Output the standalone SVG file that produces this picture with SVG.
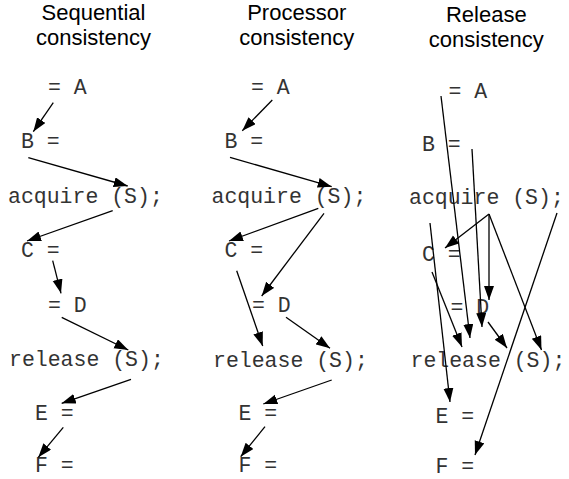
<svg xmlns="http://www.w3.org/2000/svg" width="569" height="479" viewBox="0 0 569 479">
<style>
.title{font-family:"Liberation Sans",Arial,sans-serif;font-size:22px;fill:#000;text-anchor:middle}
.code{font-family:"Liberation Mono","Courier New",monospace;font-size:21.5px;fill:#333}
.conn line{stroke:#000;stroke-width:1.3;fill:none;marker-end:url(#ah)}
</style>
<defs>
<marker id="ah" markerUnits="userSpaceOnUse" markerWidth="15" markerHeight="11" refX="14" refY="5" orient="auto">
<path d="M0,0 L14,5 L0,10 z" fill="#000"/>
</marker>
</defs>
<rect width="569" height="479" fill="#fff"/>
<g id="titles">
<text class="title" x="93.5" y="20">Sequential</text>
<text class="title" x="93.5" y="45">consistency</text>
<text class="title" x="296.7" y="20">Processor</text>
<text class="title" x="296.7" y="45">consistency</text>
<text class="title" x="486.3" y="22">Release</text>
<text class="title" x="486.3" y="47">consistency</text>
</g>
<!-- Column 1: Sequential -->
<g id="s-A"><text class="code" x="48" y="94">= A</text></g>
<g id="s-B"><text class="code" x="21" y="148">B =</text></g>
<g id="s-acq"><text class="code" x="8" y="203">acquire (S);</text></g>
<g id="s-C"><text class="code" x="21" y="257">C =</text></g>
<g id="s-D"><text class="code" x="48" y="312">= D</text></g>
<g id="s-rel"><text class="code" x="9" y="366">release (S);</text></g>
<g id="s-E"><text class="code" x="35" y="420">E =</text></g>
<g id="s-F"><text class="code" x="35" y="472">F =</text></g>
<!-- Column 2: Processor -->
<g id="p-A"><text class="code" x="251" y="94">= A</text></g>
<g id="p-B"><text class="code" x="224.5" y="148">B =</text></g>
<g id="p-acq"><text class="code" x="211.5" y="203">acquire (S);</text></g>
<g id="p-C"><text class="code" x="224.5" y="257">C =</text></g>
<g id="p-D"><text class="code" x="252" y="312">= D</text></g>
<g id="p-rel"><text class="code" x="213" y="366.5">release (S);</text></g>
<g id="p-E"><text class="code" x="238.5" y="420">E =</text></g>
<g id="p-F"><text class="code" x="238.5" y="472">F =</text></g>
<!-- Column 3: Release -->
<g id="r-A"><text class="code" x="448.5" y="97.5">= A</text></g>
<g id="r-B"><text class="code" x="422" y="150.5">B =</text></g>
<g id="r-acq"><text class="code" x="409" y="204">acquire (S);</text></g>
<g id="r-C"><text class="code" x="422" y="260.5">C =</text></g>
<g id="r-D"><text class="code" x="450.5" y="314">= D</text></g>
<g id="r-rel"><text class="code" x="410.5" y="366.5">release (S);</text></g>
<g id="r-E"><text class="code" x="435.5" y="422.5">E =</text></g>
<g id="r-F"><text class="code" x="435.5" y="473">F =</text></g>
<g id="connectors" class="conn">
<line x1="53.3" y1="102.7" x2="33.3" y2="131.7"/>
<line x1="28.3" y1="157.7" x2="127.7" y2="186"/>
<line x1="112.7" y1="210.7" x2="27" y2="241"/>
<line x1="52.7" y1="260.7" x2="61" y2="293.3"/>
<line x1="61.7" y1="317.3" x2="128.3" y2="350"/>
<line x1="131" y1="379.3" x2="61.7" y2="403.3"/>
<line x1="63.3" y1="427.3" x2="38.3" y2="457.3"/>

<line x1="272.3" y1="100" x2="242.3" y2="130.7"/>
<line x1="230" y1="157.3" x2="331.7" y2="186.7"/>
<line x1="318.3" y1="208.3" x2="229" y2="241"/>
<line x1="324" y1="213.3" x2="261.7" y2="296"/>
<line x1="236.7" y1="270.7" x2="262.7" y2="346"/>
<line x1="286" y1="317.3" x2="330" y2="348.3"/>
<line x1="331.7" y1="380" x2="263.3" y2="404"/>
<line x1="265" y1="426.7" x2="240.7" y2="456.7"/>

<line x1="441" y1="96" x2="470" y2="338"/>
<line x1="472" y1="149" x2="482" y2="327"/>
<line x1="489" y1="214" x2="445" y2="248"/>
<line x1="489" y1="214" x2="489" y2="300"/>
<line x1="489" y1="214" x2="541.5" y2="350"/>
<line x1="430" y1="223" x2="450" y2="402"/>
<line x1="432" y1="272" x2="462" y2="347"/>
<line x1="488" y1="322" x2="507" y2="348"/>
<line x1="557" y1="213" x2="475" y2="455"/>
</g>
</svg>
